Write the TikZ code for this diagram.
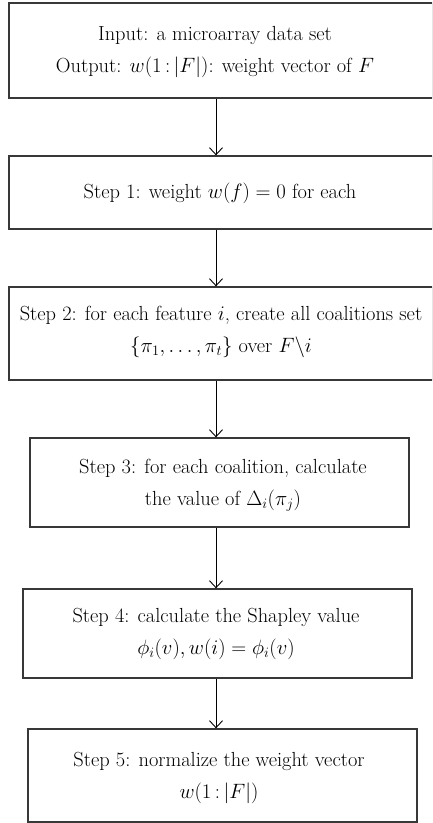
\documentclass[tikz,border=0pt]{standalone}
\usetikzlibrary{arrows.meta}
\begin{document}
\begin{tikzpicture}[x=1pt,y=-1pt,
  frame/.style={draw=black!78, line width=1.3pt, inner sep=0pt, fill=none},
  steptext/.style={align=center, inner sep=0pt, font=\fontsize{20.4}{32}\selectfont},
  link/.style={draw=black, line width=0.9pt, -{Straight Barb[length=7pt,width=13pt,line width=0.9pt]}}]
\useasboundingbox (0,0) rectangle (432,823);
\clip (0,0) rectangle (432,823);
\coordinate (axis) at (216,0);
% frames
\node[frame, minimum width=424pt, minimum height=95pt] (b1) at (221,50.5) {};
\node[frame, minimum width=424pt, minimum height=73pt] (b2) at (221,192.5) {};
\node[frame, minimum width=424pt, minimum height=93pt] (b3) at (221,333.5) {};
\node[frame, minimum width=379pt, minimum height=89pt] (b4) at (219.5,482.5) {};
\node[frame, minimum width=389pt, minimum height=89pt] (b5) at (217.5,633.5) {};
\node[frame, minimum width=389pt, minimum height=93pt] (b6) at (222.5,775.5) {};
% texts
\node[steptext] (t1) at (215,52) {Input: a microarray data set\\ Output: $w(1\,{:}\,|F|)$: weight vector of $F$};
\node[steptext] (t2) at (220,193) {Step 1: weight $w(f)=0$ for each};
\node[steptext] (t3) at (221,331.5) {Step 2: for each feature $i$, create all coalitions set\\ $\{\pi_1,\ldots,\pi_t\}$ over $F\backslash i$};
\node[steptext] (t4) at (223,485.5) {Step 3: for each coalition, calculate\\ the value of $\Delta_i(\pi_j)$};
\node[steptext] (t5) at (216,634) {Step 4: calculate the Shapley value\\ $\phi_i(v), w(i)=\phi_i(v)$};
\node[steptext] (t6) at (219,777.5) {Step 5: normalize the weight vector\\ $w(1\,{:}\,|F|)$};
% connectors
\draw[link] (b1.south -| axis) -- (b2.north -| axis);
\draw[link] (b2.south -| axis) -- (b3.north -| axis);
\draw[link] (b3.south -| axis) -- (b4.north -| axis);
\draw[link] (b4.south -| axis) -- (b5.north -| axis);
\draw[link] (b5.south -| axis) -- (b6.north -| axis);
\end{tikzpicture}
\end{document}
